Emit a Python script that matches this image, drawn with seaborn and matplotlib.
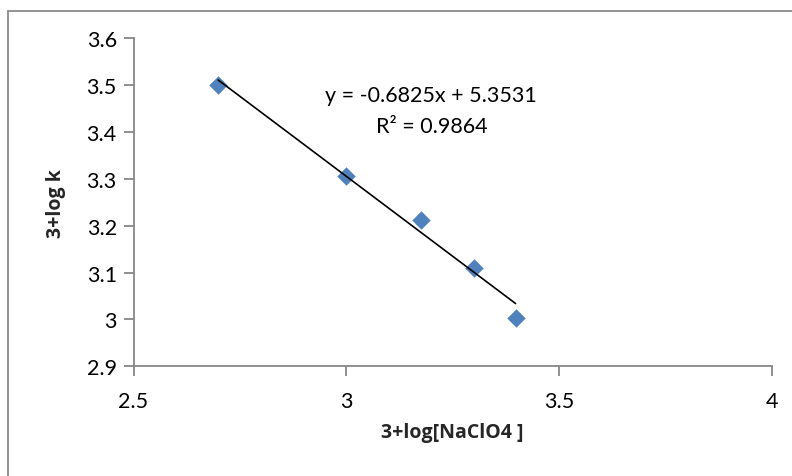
import numpy as np
import pandas as pd
import seaborn as sns
import matplotlib.pyplot as plt
from matplotlib.patches import Rectangle

# Data: 3+log[NaClO4] vs 3+log k
log_naclo4 = [2.699, 3.0, 3.176, 3.301, 3.398]
log_k = [3.500, 3.307, 3.213, 3.110, 3.003]

# Linear trendline coefficients
slope = -0.6825
intercept = 5.3531
r_squared = 0.9864

x_ticks = [2.5, 3, 3.5, 4]
y_ticks = [2.9, 3.0, 3.1, 3.2, 3.3, 3.4, 3.5, 3.6]
x_tick_labels = ["2.5", "3", "3.5", "4"]
y_tick_labels = ["2.9", "3", "3.1", "3.2", "3.3", "3.4", "3.5", "3.6"]

sns.set_theme(style="white")
plt.rcParams["font.family"] = ["Lato", "DejaVu Sans"]

W, H = 792, 477
fig = plt.figure(figsize=(W / 100, H / 100), dpi=100)
ax = fig.add_axes([133.5 / W, 1 - 367.3 / H, (771.7 - 133.5) / W, (367.3 - 39.3) / H])

df = pd.DataFrame({"x": log_naclo4, "y": log_k})
sns.scatterplot(data=df, x="x", y="y", marker="D", s=88, color="#4F81BD",
                edgecolor="#4F81BD", linewidth=0, ax=ax, zorder=2)

# Trendline over the data range
xs = np.array([min(log_naclo4), max(log_naclo4)])
trend = pd.DataFrame({"x": xs, "y": slope * xs + intercept})
sns.lineplot(data=trend, x="x", y="y", color="black", linewidth=1.2, ax=ax, zorder=3)

fs = 15.5
ax.text(3.2, 3.48, f"y = {slope}x + {intercept}", ha="center", va="center",
        fontsize=fs, color="black")
ax.text(3.2, 3.413, f"R² = {r_squared}", ha="center", va="center",
        fontsize=fs, color="black")

ax.set_xlim(2.5, 4)
ax.set_ylim(2.9, 3.6)
ax.set_xticks(x_ticks)
ax.set_xticklabels(x_tick_labels)
ax.set_yticks(y_ticks)
ax.set_yticklabels(y_tick_labels)
ax.tick_params(axis="both", which="major", direction="out", length=7, width=1.3,
               color="#878787", labelsize=fs, labelcolor="black", pad=5,
               bottom=True, left=True)
ax.tick_params(axis="x", pad=11)

for side in ["top", "right"]:
    ax.spines[side].set_visible(False)
for side in ["left", "bottom"]:
    ax.spines[side].set_color("#878787")
    ax.spines[side].set_linewidth(1.3)

bold_font = dict(family=["Open Sans", "DejaVu Sans"], size=14, weight="bold")
ax.set_xlabel("3+log[NaClO4 ]", fontdict=bold_font, labelpad=8)
ax.set_ylabel("3+log k", fontdict=bold_font, labelpad=15)
ax.grid(False)

# Outer chart border
fig.patches.append(Rectangle((8.3 / W, -0.1), 1.2, 1.1 - 12 / H,
                             transform=fig.transFigure, fill=False,
                             edgecolor="#8a8a8a", linewidth=1.3))

fig.savefig("out.png", dpi=100, facecolor="white")
